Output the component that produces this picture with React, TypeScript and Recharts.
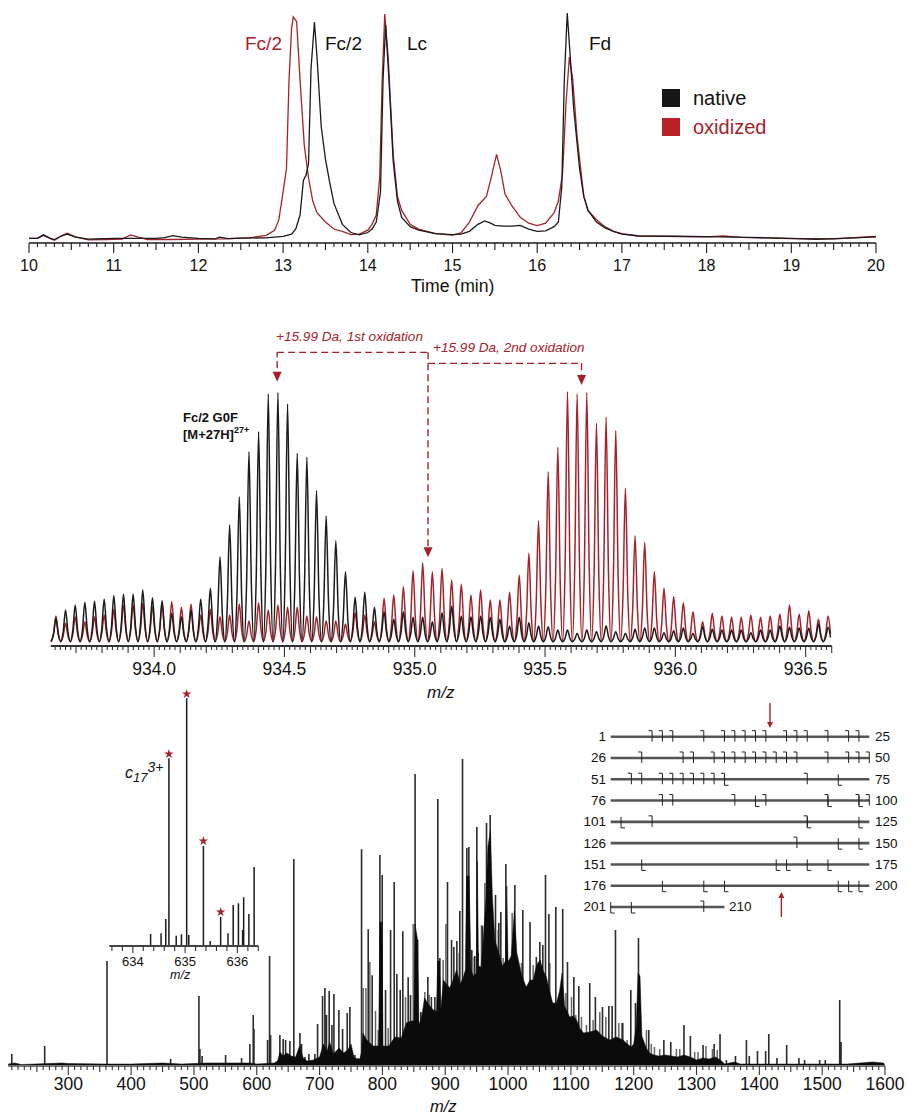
import { ComposedChart, Line, Area, Scatter, XAxis, YAxis, ZAxis, ReferenceLine, ReferenceDot } from "recharts";

const FONT = '"Liberation Sans", Arial, sans-serif';
const BLACK = "#1b1b1b";
const RED = "#a6222b";

// top panel: chromatogram (time, intensity %)
const nativeTrace: [number, number][] = [
  [10, 2], [10.1, 2], [10.17, 3.5], [10.25, 2], [10.3, 1.5], [10.38, 3], [10.45, 3.8], [10.55, 2.5], [10.7, 1.7], [11, 2],
  [11.5, 2], [11.6, 2.3], [11.7, 3.2], [11.8, 2.5], [12, 2], [12.2, 1.8], [12.25, 2.5], [12.35, 1.9], [12.5, 2.1], [12.8, 2.2], [13, 2.8], [13.1, 3.8], [13.15, 6],
  [13.2, 12], [13.24, 27], [13.27, 29], [13.3, 34], [13.33, 75], [13.37, 94.8], [13.4, 80], [13.45, 50], [13.5, 36], [13.55, 26],
  [13.6, 17], [13.7, 8], [13.8, 4.5], [13.9, 3.5], [14, 4.5], [14.05, 6], [14.1, 9], [14.15, 22], [14.18, 70], [14.21, 93.6],
  [14.25, 70], [14.3, 35], [14.35, 18], [14.4, 11], [14.5, 7], [14.6, 5.5], [14.8, 4], [15, 3.6], [15.1, 3.8], [15.2, 5],
  [15.3, 8], [15.38, 9.5], [15.45, 8.5], [15.5, 7.6], [15.6, 7.2], [15.7, 7.2], [15.8, 7.6], [15.9, 6], [16, 5], [16.1, 5.2],
  [16.2, 7], [16.25, 9], [16.29, 24], [16.32, 70], [16.355, 98.7], [16.39, 80], [16.43, 58], [16.5, 32], [16.55, 20], [16.6, 14],
  [16.7, 9], [16.8, 6.5], [16.9, 5], [17, 3.8], [17.2, 3], [17.6, 2.9], [18, 2.7], [18.5, 2.4], [19, 2], [19.3, 1.6], [19.6, 2], [20, 2.6],
];
const oxidizedTrace: [number, number][] = [
  [10, 2], [10.1, 2], [10.17, 3.3], [10.25, 2], [10.3, 1.2], [10.38, 3], [10.45, 4.2], [10.55, 2.6], [10.7, 1.3], [10.9, 1.5],
  [11.1, 1.7], [11.2, 3.5], [11.3, 2.4], [11.4, 1.5], [11.7, 1.5], [12, 1.7], [12.3, 1.8], [12.6, 2.2], [12.8, 3.3], [12.9, 5.5],
  [12.95, 10], [13, 22], [13.04, 32], [13.07, 70], [13.1, 92], [13.12, 97], [13.16, 95], [13.2, 70], [13.25, 42], [13.3, 28],
  [13.35, 18], [13.4, 13], [13.5, 9], [13.6, 6], [13.7, 5], [13.8, 3.6], [13.9, 3.8], [14, 5.5], [14.05, 8], [14.1, 12],
  [14.14, 28], [14.17, 70], [14.2, 98.3], [14.24, 80], [14.3, 38], [14.35, 20], [14.4, 14], [14.5, 8], [14.6, 6], [14.8, 4],
  [15, 3.4], [15.1, 4.3], [15.2, 9], [15.3, 16], [15.4, 20], [15.45, 27], [15.52, 38], [15.57, 31], [15.62, 21], [15.7, 16],
  [15.8, 11], [15.9, 8.5], [16, 7.5], [16.1, 8.5], [16.2, 13], [16.25, 18], [16.3, 30], [16.34, 60], [16.38, 79.8], [16.42, 70],
  [16.47, 46], [16.55, 20], [16.6, 14], [16.7, 10], [16.8, 7], [16.9, 5], [17, 4], [17.2, 3], [18, 2.6], [18.2, 3], [18.4, 2.4], [19, 1.9], [19.5, 1.8], [20, 2.8],
];

// middle panel: isotope peak tops, one per isotope spacing
const ISOTOPE_START = 933.623;
const ISOTOPE_STEP = 0.03704;
const VALLEY = 13;
const nativePeaks = [
  83, 108, 123, 131, 134, 140, 151, 155, 155, 168, 145, 136, 98, 88, 108, 140, 173, 268, 363, 448,
  583, 643, 756, 760, 726, 578, 566, 466, 390, 316, 223, 146, 161, 116, 103, 80, 103, 86, 86, 73,
  100, 120, 90, 88, 90, 86, 80, 60, 86, 70, 60, 58, 48, 48, 38, 48, 43, 61, 43, 38,
  50, 54, 54, 40, 46, 54, 38, 58, 50, 48, 48, 48, 40, 48, 48, 60, 56, 54, 53, 66, 56,
];
const oxidizedPeaks = [
  90, 68, 88, 73, 88, 93, 110, 123, 123, 128, 118, 128, 133, 116, 126, 93, 110, 88, 93, 126,
  75, 130, 108, 123, 116, 116, 90, 88, 75, 75, 66, 100, 93, 73, 143, 153, 178, 226, 250, 223,
  233, 198, 185, 153, 168, 138, 138, 161, 213, 278, 376, 523, 596, 763, 756, 760, 668, 686, 646, 473,
  331, 311, 223, 173, 148, 130, 103, 73, 98, 90, 86, 86, 93, 86, 90, 96, 123, 96, 106, 80, 90,
];

// bottom panel: solid envelope and the sticks that rise out of it (m/z, height)
const envelope: [number, number][] = [
  [204.5, 2], [215, 3], [225, 1.5], [290, 3], [300, 2.5], [360, 2], [400, 2], [450, 3], [480, 2], [500, 2.5],
  [520, 3], [560, 3], [590, 3], [600, 2], [628, 3], [633, 5], [637, 14], [642, 10], [648, 13], [655, 10],
  [662, 9], [668, 20], [674, 8], [680, 5], [690, 6], [700, 9], [706, 22], [712, 15], [716, 24], [722, 12],
  [731, 18], [738, 13], [745, 16], [750, 22], [755, 8], [764, 7], [767, 15], [769, 33], [775, 26], [785, 20],
  [794, 20], [796, 144], [799, 144], [801, 20], [810, 20], [820, 29], [830, 28], [838, 43], [846, 45], [850, 45],
  [852, 142], [856, 126], [858, 45], [860, 42], [864, 55], [867, 68], [873, 62], [881, 56], [886, 55], [888, 105],
  [891, 105], [893, 56], [897, 86], [907, 78], [912, 85], [918, 96], [924, 82], [929, 89], [932, 96], [934, 190],
  [938, 190], [941, 96], [945, 90], [950, 93], [951, 205], [953, 100], [957, 99], [961, 130], [965, 170], [968, 220],
  [972, 235], [975, 170], [979, 126], [987, 109], [991, 100], [996, 105], [998, 180], [1000, 104], [1005, 110], [1010, 155],
  [1014, 113], [1022, 90], [1029, 79], [1035, 86], [1040, 86], [1045, 100], [1051, 106], [1056, 95], [1061, 89], [1066, 75],
  [1071, 63], [1077, 63], [1082, 75], [1086, 93], [1090, 60], [1098, 49], [1104, 50], [1109, 46], [1114, 38], [1120, 33],
  [1130, 34], [1141, 36], [1150, 30], [1162, 26], [1172, 29], [1183, 26], [1190, 22], [1196, 19], [1200, 22], [1204, 40],
  [1207, 93], [1210, 90], [1213, 30], [1220, 18], [1225, 13], [1232, 11], [1240, 10], [1250, 11], [1260, 10], [1270, 9],
  [1280, 11], [1290, 9], [1300, 6], [1310, 8], [1320, 7], [1330, 9], [1338, 6], [1345, 2], [1360, 4], [1370, 2],
  [1400, 2], [1500, 2], [1540, 2], [1560, 3], [1580, 4], [1598, 3], [1600, 0],
];
const sticks: [number, number][] = [
  [210, 12], [262.4, 20], [361.6, 105], [462.9, 7], [507.9, 70], [509.5, 17], [513, 10], [550.4, 11], [575.8, 8], [589, 22],
  [594.4, 51], [595.5, 37], [617.2, 26], [620.4, 110], [622, 31], [636.8, 31], [642, 27], [645.9, 26], [652.7, 25], [659, 207],
  [668.7, 33], [671.3, 22], [676.6, 9], [683, 12], [692.5, 12], [696.8, 42], [704.7, 70], [708.4, 78], [711, 51], [715.3, 75],
  [719.6, 41], [722.8, 72], [730.7, 56], [736.6, 37], [744, 53], [748.2, 59], [756.2, 11], [766.8, 216.7], [777.4, 136.7], [783.7, 90.7],
  [796, 211], [799.7, 191], [805, 76], [813, 136], [818.8, 184], [823, 92], [828.3, 76], [832.5, 134.7], [841, 88.7], [844.7, 71],
  [852, 292], [856, 126], [861.2, 54], [872.3, 89], [878, 69], [883.5, 69], [888.2, 267], [891.4, 108], [903.6, 184], [910, 126],
  [913.7, 119], [918.5, 125], [923.2, 155], [927.5, 307], [934.4, 218], [937.6, 219], [942.3, 116], [947, 110], [950.3, 239], [959.3, 140],
  [965.7, 243], [971.5, 251], [980, 171], [985.3, 143], [988.5, 154], [996.5, 202], [1010.8, 181], [1023.5, 156], [1035, 144], [1045, 109],
  [1050.6, 124], [1055.3, 121], [1059.6, 191], [1065, 152], [1076, 159], [1087, 157], [1094.6, 104], [1104.7, 89], [1112.6, 80], [1130, 83],
  [1139, 69], [1150.3, 59], [1160.4, 60], [1165.7, 60], [1171, 136], [1181.6, 43], [1195.4, 76], [1202.8, 63], [1207.6, 128], [1224, 36],
  [1248, 26], [1259, 24], [1280, 41], [1290.2, 30], [1310.4, 21], [1328, 22], [1337.4, 32], [1347.5, 6], [1362, 10], [1379.4, 26],
  [1384, 10], [1397, 15], [1410, 15], [1415, 32], [1428, 8], [1443.5, 21], [1463, 8], [1472, 6], [1496, 6], [1505, 6],
  [1527.9, 66], [1530, 24],
];
// shorter, fainter sticks on the flanks of the hump
const minorSticks: [number, number][] = [
  [769.4, 78], [773.7, 78], [780, 104], [789, 55], [793.3, 36], [809.2, 38], [836.8, 69], [849, 142], [867.5, 74], [874.4, 71],
  [896.7, 106], [901, 142], [922.2, 113], [931.2, 93], [946, 109], [952.4, 113], [957.7, 141], [963, 183], [984.3, 136], [992.2, 108],
  [1001.8, 106], [1006.5, 153], [1016, 101], [1021.4, 103], [1030.4, 78], [1040, 101], [1048, 104], [1066.5, 103], [1079.7, 66], [1092, 73],
  [1101, 69], [1107.8, 51], [1116.9, 49], [1124.8, 41], [1135.4, 46], [1146, 54], [1155.6, 49], [1176.3, 43], [1183, 43], [1189.5, 26],
  [1220.3, 36], [1228, 22], [1233, 19], [1241.4, 17], [1268, 17], [1273.3, 17], [1297, 14], [1302.4, 14], [1315, 20], [1325.3, 17], [1333, 16],
];

// inset: c17 3+ isotope cluster
const insetSticks: [number, number][] = [
  [634.34, 12], [634.54, 12.7], [634.63, 27], [634.69, 187.7], [634.83, 10.3], [634.93, 11.7], [635.03, 247.7], [635.07, 11], [635.35, 100],
  [635.48, 5], [635.68, 29], [635.82, 12.7], [635.92, 41], [636.02, 42.7], [636.1, 16], [636.12, 48.7], [636.22, 32], [636.32, 79],
];
const insetStarred: [number, number][] = [[634.69, 192], [635.03, 252], [635.35, 105], [635.68, 34]];

// sequence map: cleavage columns per row of 25 residues
const rowStarts = [1, 26, 51, 76, 101, 126, 151, 176, 201];
const rowEnds = [25, 50, 75, 100, 125, 150, 175, 200, 210];
const rowSpans = [25, 25, 25, 25, 25, 25, 25, 25, 11];
const cSites = [
  [4, 5, 6, 9, 11, 12, 13, 14, 15, 17, 18, 19, 21, 23, 24],
  [3, 7, 8, 10, 11, 12, 13, 14, 15, 16, 17, 18, 21, 23, 24, 25],
  [2, 3, 5, 6, 7, 8, 9, 10, 11, 19],
  [5, 6, 12, 15, 21, 24, 25],
  [4, 19],
  [18],
  [],
  [],
  [9],
];
const zSites = [
  [],
  [],
  [11, 22],
  [14, 21, 24],
  [1, 19, 24],
  [22, 24],
  [3, 16, 17, 19, 21],
  [5, 9, 11, 22, 23, 24],
  [0, 2],
];

const timeTicks = Array.from({ length: 101 }, (_, i) => 10 + i / 10);
const isotopeTicks = Array.from({ length: 150 }, (_, i) => 933.62 + i * 0.02);
const mainTicks = Array.from({ length: 140 }, (_, i) => 210 + i * 10);
const insetTicks = Array.from({ length: 15 }, (_, i) => 633.6 + i * 0.2);

const toPoints = (rows: [number, number][]) => rows.map(([x, v]) => ({ x, v }));
const toSticks = (rows: [number, number][]) => rows.flatMap(([x, v]) => [{ x, v: 0 }, { x, v }, { x, v: 0 }]);
const toIsotopes = (tops: number[]) =>
  tops.flatMap((v, i) => {
    const m = ISOTOPE_START + i * ISOTOPE_STEP;
    const h = VALLEY + (v - VALLEY) * 0.3;
    return [
      { x: m - ISOTOPE_STEP / 2, v: VALLEY },
      { x: m - ISOTOPE_STEP / 4, v: h },
      { x: m, v },
      { x: m + ISOTOPE_STEP / 4, v: h },
    ];
  });

const near = (v: number, step: number) => Math.abs(v / step - Math.round(v / step)) < 1e-4;

function makeTick(major: number, mid: number, digits: number, lens: number[], fontSize: number, labelDy: number, color = "#1b1b1b") {
  return (p: any) => {
    const v = p.payload.value;
    const isMajor = near(v, major);
    const len = isMajor ? lens[0] : near(v, mid) ? lens[1] : lens[2];
    return (
      <g>
        <line x1={p.x} x2={p.x} y1={p.y} y2={p.y + len} stroke={color} strokeWidth={1.1} />
        {isMajor && (
          <text x={p.x} y={p.y + labelDy} textAnchor="middle" fontFamily={FONT} fontSize={fontSize} fill="#111">
            {v.toFixed(digits)}
          </text>
        )}
      </g>
    );
  };
}

const downArrow = (p: any) => (
  <path d={`M${p.cx - 4.5} ${p.cy - 10} L${p.cx + 4.5} ${p.cy - 10} L${p.cx} ${p.cy} Z`} fill={RED} />
);
const upArrow = (p: any) => (
  <path d={`M${p.cx - 3} ${p.cy + 6} L${p.cx + 3} ${p.cy + 6} L${p.cx} ${p.cy} Z`} fill={RED} />
);
const smallDown = (p: any) => (
  <path d={`M${p.cx - 3} ${p.cy - 6} L${p.cx + 3} ${p.cy - 6} L${p.cx} ${p.cy} Z`} fill={RED} />
);
const cMark = (p: any) => (
  <path d={`M${p.cx - 3.5} ${p.cy - 6} H${p.cx} V${p.cy + 5}`} fill="none" stroke="#222" strokeWidth={1} />
);
const zMark = (p: any) => (
  <path d={`M${p.cx} ${p.cy - 5} V${p.cy + 6} H${p.cx + 4}`} fill="none" stroke="#222" strokeWidth={1} />
);

const Label = ({ x, y, color = "#111", size = 19, style, children }: any) => (
  <div
    style={{
      position: "absolute",
      left: x,
      top: y,
      transform: "translateY(-50%)",
      color,
      fontSize: size,
      lineHeight: 1,
      whiteSpace: "nowrap",
      ...style,
    }}
  >
    {children}
  </div>
);

const dash = "7 4";

export default function App() {
  return (
    <div
      style={{
        position: "absolute",
        left: 0,
        top: 0,
        width: 907,
        height: 1115,
        background: "#fff",
        overflow: "hidden",
        fontFamily: FONT,
      }}
    >
      {/* chromatogram */}
      <div style={{ position: "absolute", left: 0, top: 0 }}>
        <ComposedChart width={907} height={300} margin={{ top: 10, right: 31, bottom: 0, left: 29 }}>
          <XAxis
            dataKey="x"
            type="number"
            domain={[10, 20]}
            ticks={timeTicks}
            interval={0}
            height={57}
            tickSize={0}
            tickMargin={0}
            tickLine={false}
            axisLine={{ stroke: BLACK, strokeWidth: 1.4 }}
            tick={makeTick(1, 0.5, 0, [10, 7, 4], 16, 28)}
          />
          <YAxis hide type="number" domain={[0, 100]} />
          <Line data={toPoints(oxidizedTrace)} dataKey="v" stroke={RED} strokeWidth={1.3} dot={false} isAnimationActive={false} />
          <Line data={toPoints(nativeTrace)} dataKey="v" stroke={BLACK} strokeWidth={1.3} dot={false} isAnimationActive={false} />
        </ComposedChart>
      </div>
      <Label x={411} y={287} size={17.6}>Time (min)</Label>
      <Label x={245} y={43} color={RED}>Fc/2</Label>
      <Label x={325} y={43}>Fc/2</Label>
      <Label x={407} y={43}>Lc</Label>
      <Label x={589} y={43}>Fd</Label>
      <div style={{ position: "absolute", left: 662, top: 89, width: 18, height: 18, background: "#161616" }} />
      <div style={{ position: "absolute", left: 662, top: 118, width: 18, height: 18, background: "#b81f27" }} />
      <Label x={693} y={98} size={20}>native</Label>
      <Label x={693} y={127} size={20} color={RED}>oxidized</Label>

      {/* isotope envelope */}
      <div style={{ position: "absolute", left: 0, top: 326 }}>
        <ComposedChart width={907} height={362} margin={{ top: 0, right: 75.3, bottom: 0, left: 50.7 }}>
          <XAxis
            dataKey="x"
            type="number"
            domain={[933.603, 936.6]}
            ticks={isotopeTicks}
            interval={0}
            height={42}
            tickSize={0}
            tickMargin={0}
            tickLine={false}
            axisLine={{ stroke: "#333", strokeWidth: 1.8 }}
            tick={makeTick(0.5, 0.1, 1, [11, 7, 4], 17.5, 29, "#333")}
          />
          <YAxis hide type="number" domain={[0, 960]} />
          <Line data={toIsotopes(oxidizedPeaks)} dataKey="v" type="monotone" stroke={RED} strokeWidth={1.5} dot={false} isAnimationActive={false} />
          <Line data={toIsotopes(nativePeaks)} dataKey="v" type="monotone" stroke={BLACK} strokeWidth={1.5} dot={false} isAnimationActive={false} />
          <ReferenceLine segment={[{ x: 934.472, y: 800 }, { x: 934.472, y: 881 }]} stroke={RED} strokeDasharray={dash} strokeWidth={1.4} />
          <ReferenceLine segment={[{ x: 934.472, y: 881 }, { x: 935.051, y: 881 }]} stroke={RED} strokeDasharray={dash} strokeWidth={1.4} />
          <ReferenceLine segment={[{ x: 935.051, y: 881 }, { x: 935.051, y: 275 }]} stroke={RED} strokeDasharray={dash} strokeWidth={1.4} />
          <ReferenceLine segment={[{ x: 935.051, y: 848 }, { x: 935.64, y: 848 }]} stroke={RED} strokeDasharray={dash} strokeWidth={1.4} />
          <ReferenceLine segment={[{ x: 935.64, y: 848 }, { x: 935.64, y: 790 }]} stroke={RED} strokeDasharray={dash} strokeWidth={1.4} />
          <ReferenceDot x={934.472} y={793} r={1} shape={downArrow} />
          <ReferenceDot x={935.051} y={266} r={1} shape={downArrow} />
          <ReferenceDot x={935.64} y={783} r={1} shape={downArrow} />
        </ComposedChart>
      </div>
      <Label x={276} y={337} size={13.6} color={RED} style={{ fontStyle: "italic" }}>+15.99 Da, 1st oxidation</Label>
      <Label x={433} y={348} size={13.6} color={RED} style={{ fontStyle: "italic" }}>+15.99 Da, 2nd oxidation</Label>
      <Label x={183} y={417} size={13} style={{ fontWeight: 700 }}>Fc/2 G0F</Label>
      <Label x={183} y={434} size={13} style={{ fontWeight: 700 }}>
        [M+27H]<sup style={{ fontSize: 9, lineHeight: 0 }}>27+</sup>
      </Label>
      <Label x={427} y={692} size={17} style={{ fontStyle: "italic" }}>m/z</Label>

      {/* full spectrum: sticks in their own layer so the solid hump covers their feet */}
      <div style={{ position: "absolute", left: 0, top: 660 }}>
        <ComposedChart width={907} height={455} margin={{ top: 0, right: 22, bottom: 49, left: 8.3 }}>
          <XAxis hide dataKey="x" type="number" domain={[204.5, 1600]} />
          <YAxis hide type="number" domain={[0, 406]} />
          <Line data={toSticks(minorSticks)} dataKey="v" stroke="#666" strokeWidth={1.5} dot={false} isAnimationActive={false} />
          <Line data={toSticks(sticks)} dataKey="v" stroke="#2b2b2b" strokeWidth={1.6} dot={false} isAnimationActive={false} />
        </ComposedChart>
      </div>
      <div style={{ position: "absolute", left: 0, top: 660 }}>
        <ComposedChart width={907} height={455} margin={{ top: 0, right: 22, bottom: 0, left: 8.3 }}>
          <XAxis
            dataKey="x"
            type="number"
            domain={[204.5, 1600]}
            ticks={mainTicks}
            interval={0}
            height={49}
            tickSize={0}
            tickMargin={0}
            tickLine={false}
            axisLine={{ stroke: "#777", strokeWidth: 2 }}
            tick={makeTick(100, 50, 0, [9, 6, 4], 17.5, 24, "#333")}
          />
          <YAxis hide type="number" domain={[0, 406]} />
          <Area data={toPoints(envelope)} dataKey="v" type="linear" stroke="#0b0b0b" strokeWidth={0.5} fill="#0b0b0b" fillOpacity={1} dot={false} isAnimationActive={false} />
        </ComposedChart>
      </div>
      <Label x={430} y={1106} size={16.5} style={{ fontStyle: "italic" }}>m/z</Label>

      {/* inset */}
      <div style={{ position: "absolute", left: 0, top: 686 }}>
        <ComposedChart width={300} height={290} margin={{ top: 0, right: 41.7, bottom: 0, left: 109.3 }}>
          <XAxis
            dataKey="x"
            type="number"
            domain={[633.55, 636.4]}
            ticks={insetTicks}
            interval={0}
            height={30}
            tickSize={0}
            tickMargin={0}
            tickLine={false}
            axisLine={{ stroke: "#444", strokeWidth: 1.8 }}
            tick={makeTick(1, 1, 0, [7, 5, 5], 13, 20, "#333")}
          />
          <YAxis hide type="number" dataKey="v" domain={[0, 260]} />
          <ZAxis range={[28, 28]} />
          <Line data={toSticks(insetSticks)} dataKey="v" stroke="#1b1b1b" strokeWidth={1.5} dot={false} isAnimationActive={false} />
          <Scatter data={toPoints(insetStarred)} shape="star" fill={RED} isAnimationActive={false} />
        </ComposedChart>
      </div>
      <Label x={125} y={773} size={16} style={{ fontStyle: "italic" }}>
        c<sub style={{ fontSize: 13, lineHeight: 0 }}>17</sub>
        <sup style={{ fontSize: 14, lineHeight: 0 }}>3+</sup>
      </Label>
      <Label x={170} y={975} size={12.5} style={{ fontStyle: "italic" }}>m/z</Label>

      {/* sequence map */}
      <div style={{ position: "absolute", left: 0, top: 695 }}>
        <ComposedChart width={907} height={235} margin={{ top: 41.7, right: 37.7, bottom: 23, left: 610.7 }}>
          <XAxis hide dataKey="x" type="number" domain={[0, 25]} />
          <YAxis hide dataKey="row" type="number" domain={[0, 8]} reversed />
          <ZAxis range={[20, 20]} />
          {rowSpans.map((span, i) => (
            <Line
              key={i}
              data={[{ x: 0, row: i }, { x: span, row: i }]}
              dataKey="row"
              stroke="#555"
              strokeWidth={2.6}
              dot={false}
              isAnimationActive={false}
            />
          ))}
          <Scatter data={cSites.flatMap((s, row) => s.map((x) => ({ x, row })))} shape={cMark} isAnimationActive={false} />
          <Scatter data={zSites.flatMap((s, row) => s.map((x) => ({ x, row })))} shape={zMark} isAnimationActive={false} />
          <ReferenceLine segment={[{ x: 15.4, y: -1.58 }, { x: 15.4, y: -0.5 }]} stroke={RED} strokeWidth={1.4} ifOverflow="visible" />
          <ReferenceDot x={15.4} y={-0.41} r={1} shape={smallDown} ifOverflow="visible" />
          <ReferenceLine segment={[{ x: 16.5, y: 7.4 }, { x: 16.5, y: 8.47 }]} stroke={RED} strokeWidth={1.4} ifOverflow="visible" />
          <ReferenceDot x={16.5} y={7.3} r={1} shape={upArrow} ifOverflow="visible" />
        </ComposedChart>
      </div>
      {rowStarts.map((n, i) => (
        <Label key={n} x={572} y={737 + i * 21.3} size={13.5} style={{ width: 34, textAlign: "right" }}>{n}</Label>
      ))}
      {rowEnds.map((n, i) => (
        <Label key={n} x={i === 8 ? 729 : 875} y={737 + i * 21.3} size={13.5}>{n}</Label>
      ))}
    </div>
  );
}
